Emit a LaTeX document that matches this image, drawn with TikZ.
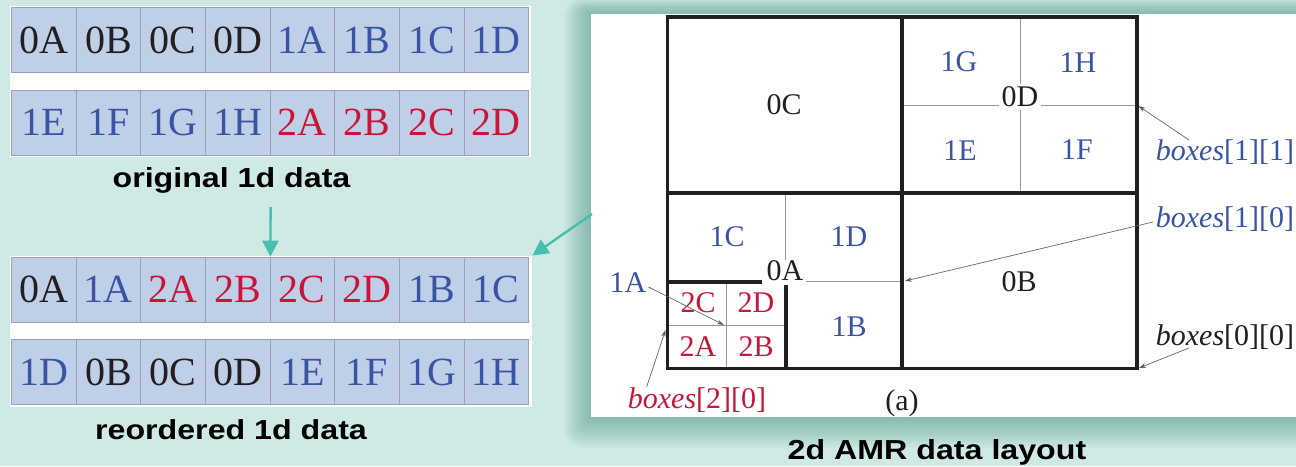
\documentclass[tikz,border=0pt]{standalone}
\usepackage{fontspec}
\setmainfont{Liberation Serif}
\newfontfamily\capfont[FakeStretch=1.17]{Liberation Sans}
\usetikzlibrary{arrows.meta}

\definecolor{bgmint}{RGB}{207,234,228}
\definecolor{shadecol}{RGB}{80,155,142}
\definecolor{cellfill}{RGB}{190,207,231}
\definecolor{celledge}{RGB}{150,163,184}
\definecolor{ink}{RGB}{35,31,32}
\definecolor{inkblue}{RGB}{58,84,164}
\definecolor{inkred}{RGB}{200,22,58}
\definecolor{flowteal}{RGB}{72,190,176}
\definecolor{thingrey}{RGB}{150,150,150}

\begin{document}
\begin{tikzpicture}[x=1pt,y=-1pt,
  cell/.style={rectangle, draw=celledge, line width=0.8pt, fill=cellfill,
    minimum width=64.65pt, minimum height=65pt, inner sep=0pt,
    font=\fontsize{40}{40}\selectfont},
  backing/.style={rectangle, fill=white, inner sep=0pt, anchor=north west},
  glab/.style={inner sep=2pt, font=\fontsize{30}{30}\selectfont},
  caption/.style={inner sep=0pt, font=\capfont\bfseries\fontsize{27.5}{27.5}\selectfont, text=black},
  heavy/.style={line width=3.6pt, draw=ink},
  fine/.style={line width=0.8pt, draw=thingrey},
  pointer/.style={draw=black!60, line width=0.7pt, -{Stealth[length=7pt,width=4.5pt,fill=black]}},
  flow/.style={draw=flowteal, line width=2.4pt, -{Triangle[length=16pt,width=16pt]}}]

% canvas
\useasboundingbox (0,0) rectangle (1296,466);
\fill[bgmint] (0,0) rectangle (1296,466);

% soft shadow round the layout panel
\foreach \k in {1,...,18}{
  \fill[shadecol, opacity=0.04, rounded corners=\k pt]
    ({591-\k*1.5},{14-\k*0.9}) rectangle ({1300+\k},{417+\k*1.7});
}
\node[backing, minimum width=705pt, minimum height=403pt] (panel) at (591,14) {};

% ---------- 1d data rows ----------
\node[backing, minimum width=521pt, minimum height=151pt] (back1) at (10,5.5) {};
\node[backing, minimum width=522pt, minimum height=151pt] (back2) at (10,255.5) {};

\foreach \t/\c [count=\i] in {0A/ink,0B/ink,0C/ink,0D/ink,1A/inkblue,1B/inkblue,1C/inkblue,1D/inkblue}
  \node[cell, text=\c] (r1-\i) at ({11.4+64.65*(\i-0.5)},40) {\t};
\foreach \t/\c [count=\i] in {1E/inkblue,1F/inkblue,1G/inkblue,1H/inkblue,2A/inkred,2B/inkred,2C/inkred,2D/inkred}
  \node[cell, text=\c] (r2-\i) at ({11.4+64.65*(\i-0.5)},122.5) {\t};
\foreach \t/\c [count=\i] in {0A/ink,1A/inkblue,2A/inkred,2B/inkred,2C/inkred,2D/inkred,1B/inkblue,1C/inkblue}
  \node[cell, text=\c] (r3-\i) at ({11.4+64.65*(\i-0.5)},289.5) {\t};
\foreach \t/\c [count=\i] in {1D/inkblue,0B/ink,0C/ink,0D/ink,1E/inkblue,1F/inkblue,1G/inkblue,1H/inkblue}
  \node[cell, text=\c] (r4-\i) at ({11.4+64.65*(\i-0.5)},372) {\t};

\node[caption] (origcap) at (231.5,180) {original 1d data};
\node[caption] (reordcap) at (231,430) {reordered 1d data};
\node[caption] (layoutcap) at (937,452.5) {2d AMR data layout};

% flow arrows
\coordinate (downstart) at (270.6,207);
\draw[flow] (downstart) -- (r3-4.north east);
\coordinate (panelstart) at (592,214);
\draw[flow] (panelstart) -- (back2.north east);

% ---------- 2d layout ----------
% thin refinement lines
\draw[fine] (1020,16.7) -- (1020,192.7);
\draw[fine] (902,105) -- (1137,105);
\draw[fine] (785.7,192.7) -- (785.7,282);
\draw[fine] (785.7,281) -- (902,281);
\draw[fine] (726,281.7) -- (726,368.3);
\draw[fine] (667.5,325) -- (785.7,325);

% patch labels
\node[glab, fill=white, text=ink, inner sep=3pt] (l0D) at (1020,97) {0D};
\node[glab, fill=white, text=ink, inner xsep=2.5pt, inner ysep=1pt] (l0A) at (785,271) {0A};
\node[glab, text=ink] (l0C) at (784,105) {0C};
\node[glab, text=ink] (l0B) at (1019,282) {0B};
\node[glab, text=inkblue] (l1G) at (959,62) {1G};
\node[glab, text=inkblue] (l1H) at (1078,63) {1H};
\node[glab, text=inkblue] (l1E) at (960,151) {1E};
\node[glab, text=inkblue] (l1F) at (1077,150) {1F};
\node[glab, text=inkblue] (l1C) at (727,237) {1C};
\node[glab, text=inkblue] (l1D) at (849,237) {1D};
\node[glab, text=inkblue] (l1B) at (849,327) {1B};
\node[glab, text=inkred] (l2C) at (698,303) {2C};
\node[glab, text=inkred] (l2D) at (756,303) {2D};
\node[glab, text=inkred] (l2A) at (698,347) {2A};
\node[glab, text=inkred] (l2B) at (756,347) {2B};

% level boundaries
\draw[heavy] (667.5,16.7) rectangle (1137,368.3);
\draw[heavy] (902,16.7) -- (902,368.3);
\draw[heavy] (667.5,192.7) -- (1137,192.7);
\draw[heavy] (667.5,281.7) -- (761.7,281.7);
\draw[heavy] (785.7,285) -- (785.7,368.3);

% box annotations
\node[glab, text=inkblue] (b11) at (1225,152) {\textit{boxes}[1][1]};
\node[glab, text=inkblue] (b10) at (1225,219) {\textit{boxes}[1][0]};
\node[glab, text=ink] (b00) at (1225,337) {\textit{boxes}[0][0]};
\node[glab, text=inkblue] (l1A) at (628,283) {1A};
\node[glab, text=inkred] (b20) at (697,400) {\textit{boxes}[2][0]};
\node[glab, text=ink] (cap) at (902,403) {(a)};

\coordinate (b11tail) at (1189,140);  \coordinate (b11tip) at (1138.5,106);
\coordinate (b10tail) at (1153,222);  \coordinate (b10tip) at (905,281);
\coordinate (b00tail) at (1189,348);  \coordinate (b00tip) at (1139,368);
\coordinate (l1Atail) at (648.5,287); \coordinate (l1Atip) at (724,325);
\coordinate (b20tail) at (646.7,386.7); \coordinate (b20tip) at (665.5,330);

\draw[pointer] (b11tail) -- (b11tip);
\draw[pointer] (b10tail) -- (b10tip);
\draw[pointer] (b00tail) -- (b00tip);
\draw[pointer] (l1Atail) -- (l1Atip);
\draw[pointer] (b20tail) -- (b20tip);
\end{tikzpicture}
\end{document}
